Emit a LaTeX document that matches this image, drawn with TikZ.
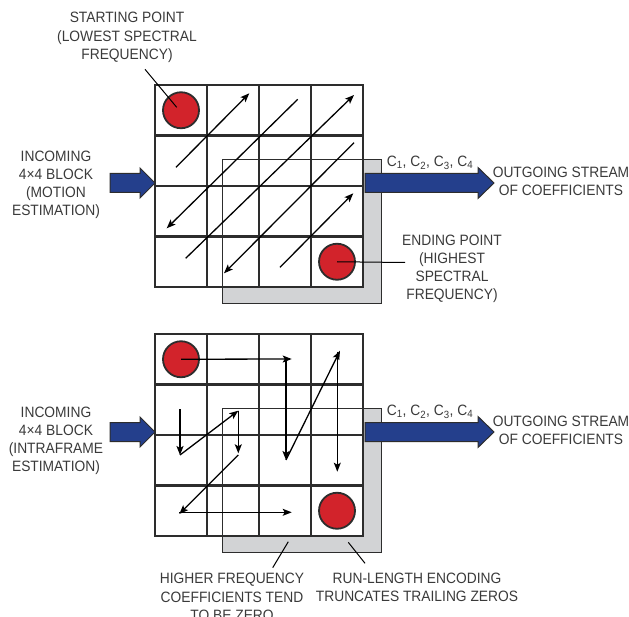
\documentclass[tikz,border=0pt]{standalone}
\usepackage{fontspec}
\setmainfont[FakeStretch=0.92]{Liberation Sans}
\usetikzlibrary{arrows.meta}
\definecolor{txt}{HTML}{3A3A3A}
\definecolor{gridc}{HTML}{2D2D2D}
\definecolor{dotred}{HTML}{D2232B}
\definecolor{streamblue}{HTML}{243F8C}
\definecolor{shade}{HTML}{D2D3D5}

\begin{document}
\begin{tikzpicture}[x=1pt,y=-1pt,
  lbl/.style={font=\fontsize{15}{18.2}\selectfont, text=txt, align=center, inner sep=0pt},
  cellgrid/.style={draw=gridc, line width=2.6pt},
  scan/.style={-{Stealth[length=9pt,width=7pt,inset=2pt]}, line width=1.3pt, black},
  dot/.style={circle, draw=gridc, line width=1.8pt, fill=dotred, minimum size=36pt, inner sep=0pt},
  shadowfill/.style={fill=shade},
  shadowedge/.style={draw=gridc, line width=0.9pt},
  stream/.style={fill=streamblue, draw=gridc, line width=1pt, line join=miter},
  leader/.style={line width=1pt, black}
]
\useasboundingbox (0,0) rectangle (629,617);

% ---------- common pieces of one 4x4 block ----------
\newcommand{\blockbase}{%
  \fill[shadowfill] (67,74) rectangle (226,218);
  \fill[white] (0,0) rectangle (208,202);
  \draw[shadowedge] (67,74) rectangle (226,218);
  \draw[cellgrid] (0,0) rectangle (208,202);
  \foreach \cx in {52,104,156} \draw[cellgrid] (\cx,0) -- (\cx,202);
  \foreach \cy in {50.5,101,151.5} \draw[cellgrid] (0,\cy) -- (208,\cy);
}
\newcommand{\streamarrows}{%
  % incoming block
  \fill[stream] (110,173.5) -- (140,173.5) -- (140,168) -- (155,183)
    -- (140,198) -- (140,192.5) -- (110,192.5) -- cycle;
  % outgoing coefficients
  \fill[stream] (365,173.5) -- (478,173.5) -- (478,167.5) -- (494,183)
    -- (478,198.5) -- (478,192.5) -- (365,192.5) -- cycle;
}

% ================= zigzag scan (motion estimation) =================
\begin{scope}[shift={(155,85)}]
  \blockbase
  \node[dot] (s1) at (26,25.25) {};
  \node[dot] (e1) at (182,176.75) {};
  \draw[scan] (21,82.3) -- (94.3,8.3);
  \draw[scan] (142.7,14.3) -- (11.7,143.3);
  \draw[scan] (30.7,173.3) -- (199,10);
  \draw[scan] (199,57.7) -- (69,188.3);
  \draw[scan] (125,182.3) -- (198.3,108.3);
\end{scope}
\streamarrows

\node[lbl] (startlbl) at (127,37.5) {STARTING POINT\\(LOWEST SPECTRAL\\FREQUENCY)};
\node[lbl] (in1) at (56,185) {INCOMING\\4×4 BLOCK\\(MOTION\\ESTIMATION)};
\node[lbl, anchor=base] (c1) at (430,166.7) {C\textsubscript{1}, C\textsubscript{2}, C\textsubscript{3}, C\textsubscript{4}};
\node[lbl] (out1) at (561,181.5) {OUTGOING STREAM\\OF COEFFICIENTS};
\node[lbl] (endlbl) at (452,269) {ENDING POINT\\(HIGHEST\\SPECTRAL\\FREQUENCY)};

\coordinate (sl) at (145,69.3);
\coordinate (sd) at (176.7,107.3);
\draw[leader] (sl) -- (sd);
\coordinate (el) at (405,262.5);
\draw[leader] (e1.center) -- (el);

% ================= scan of an intraframe block =================
\begin{scope}[shift={(0,249)}]
  \begin{scope}[shift={(155,85)}]
    \blockbase
    \node[dot] (s2) at (26,25.25) {};
    \node[dot] (e2) at (182,176.75) {};
    \draw[scan] (s2.center) -- (136.7,25);
    \draw[scan] (131,25) -- (131,126);
    \draw[scan] (131,126) -- (185,16.7);
    \draw[scan] (182.3,17.7) -- (182.3,137.7);
    \draw[scan] (25,75.3) -- (25,121);
    \draw[scan] (25,121) -- (83.3,76.7);
    \draw[scan] (83.3,76.7) -- (83.3,119.3);
    \draw[scan] (83.3,121) -- (24.3,180);
    \draw[scan] (24.3,178.3) -- (136.7,178.3);
  \end{scope}
  \streamarrows
\end{scope}

\node[lbl] (in2) at (56,441) {INCOMING\\4×4 BLOCK\\(INTRAFRAME\\ESTIMATION)};
\node[lbl, anchor=base] (c2) at (430,415.7) {C\textsubscript{1}, C\textsubscript{2}, C\textsubscript{3}, C\textsubscript{4}};
\node[lbl] (out2) at (561,430.5) {OUTGOING STREAM\\OF COEFFICIENTS};
\node[lbl] (zerolbl) at (232,597) {HIGHER FREQUENCY\\COEFFICIENTS TEND\\TO BE ZERO};
\node[lbl] (rlelbl) at (417,587.5) {RUN-LENGTH ENCODING\\TRUNCATES TRAILING ZEROS};

\coordinate (za) at (288.3,541.7);
\coordinate (zb) at (272.7,567.7);
\draw[leader] (za) -- (zb);
\coordinate (ra) at (348.3,542.3);
\coordinate (rb) at (365,563.3);
\draw[leader] (ra) -- (rb);
\end{tikzpicture}
\end{document}
